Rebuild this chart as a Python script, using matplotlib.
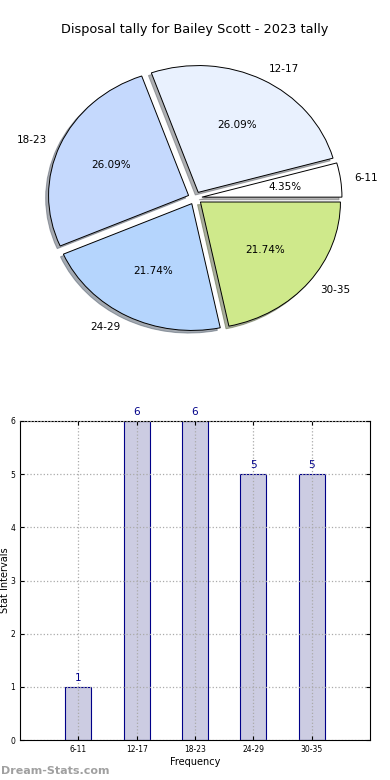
import matplotlib
matplotlib.use("Agg")
import matplotlib.pyplot as plt

# data
categories = ["6-11", "12-17", "18-23", "24-29", "30-35"]
counts = [1, 6, 6, 5, 5]
pie_colors = ["#ffffff", "#e9f1fe", "#c5d9fd", "#b5d5fd", "#cfe98b"]

fig = plt.figure(figsize=(3.9, 7.8), dpi=100)

# pie on top (slightly squashed like the original)
ax1 = fig.add_axes([20 / 390, 1 - 356.5 / 780, 350 / 390, 317 / 780])
ax1.pie(counts, labels=categories, colors=pie_colors, autopct="%.2f%%",
        explode=[0.05] * len(counts),
        shadow={"ox": -0.015, "oy": -0.015, "shade": 0.6}, startangle=0,
        wedgeprops={"edgecolor": "black", "linewidth": 0.7},
        textprops={"fontsize": 7.5})
ax1.set_xlim(-1.25, 1.25)
ax1.set_ylim(-1.25, 1.25)
ax1.set_aspect("auto")
fig.text(0.5, 1 - 30 / 780, "Disposal tally for Bailey Scott - 2023 tally",
         ha="center", va="center", fontsize=9.3)

# bars below
ax2 = fig.add_axes([20 / 390, 40 / 780, 350 / 390, 319 / 780])
x = range(len(categories))
ax2.bar(x, counts, width=0.45, color="#cccce2", edgecolor="#000088",
        linewidth=0.8, zorder=2)
for i, v in zip(x, counts):
    ax2.text(i, v + 0.08, str(v), ha="center", va="bottom",
             color="#000088", fontsize=7.5)
ax2.set_xlim(-1, 5)
ax2.set_ylim(0, 6)
ax2.set_xticks(list(x))
ax2.set_xticklabels(categories, fontsize=5.5)
ax2.tick_params(axis="y", labelsize=5.5)
ax2.tick_params(direction="in", top=True, right=True, length=3)
ax2.grid(True, linestyle=":", color="#aaaaaa", linewidth=0.9, zorder=3)
ax2.set_axisbelow(False)
ax2.set_xlabel("Frequency", fontsize=7, labelpad=2)
ax2.set_ylabel("Stat Intervals", fontsize=7, labelpad=0)

fig.text(0.002, 1 - 771 / 780, "Dream-Stats.com", ha="left", va="center",
         fontsize=8, color="#a0a0a0", fontweight="bold")

plt.savefig("out.png", dpi=100)
